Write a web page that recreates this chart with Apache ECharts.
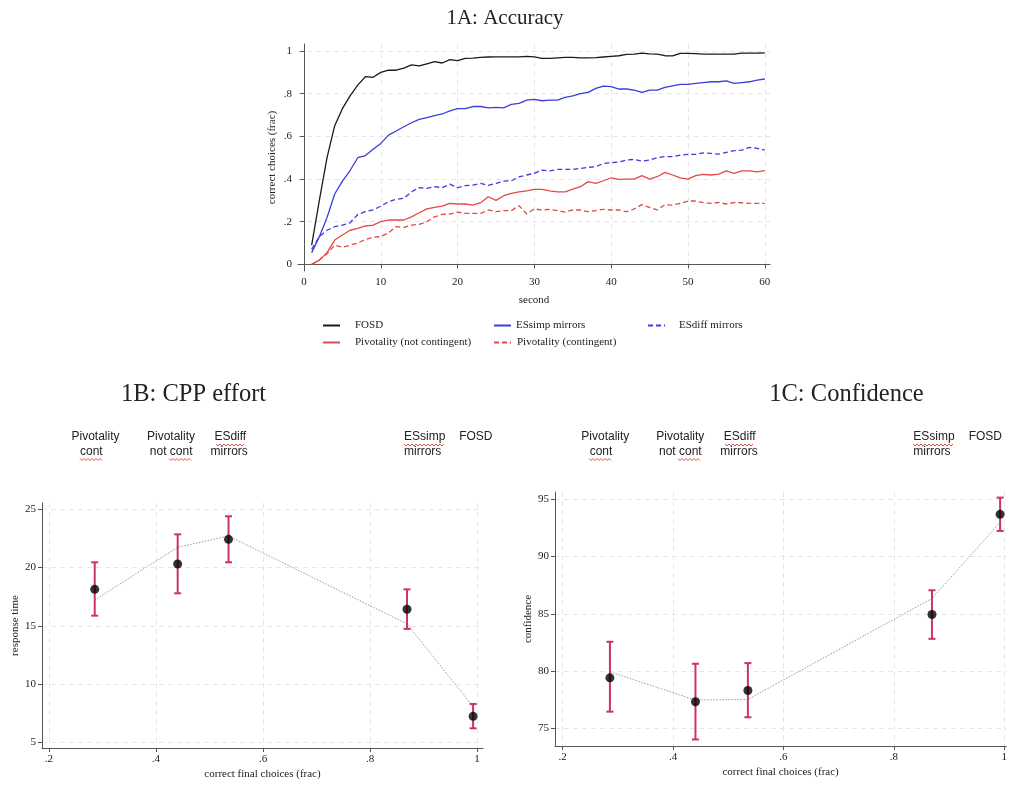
<!DOCTYPE html>
<html>
<head>
<meta charset="utf-8">
<script src="https://cdn.jsdelivr.net/npm/echarts@6/dist/echarts.min.js"></script>
<style>
  html, body { margin: 0; padding: 0; background: #fff; }
  #chart { width: 1010px; height: 785px; }
</style>
</head>
<body>
<div id="chart"></div>
<script>
// ---- 1A: share of correct choices by second ----
const seconds = [1,2,3,4,5,6,7,8,9,10,11,12,13,14,15,16,17,18,19,20,
  21,22,23,24,25,26,27,28,29,30,31,32,33,34,35,36,37,38,39,40,
  41,42,43,44,45,46,47,48,49,50,51,52,53,54,55,56,57,58,59,60];

const fosd = [0.09,0.30,0.50,0.65,0.73,0.79,0.84,0.88,0.877,0.90,
  0.91,0.91,0.92,0.935,0.93,0.94,0.95,0.944,0.96,0.955,
  0.966,0.967,0.97,0.972,0.973,0.973,0.973,0.973,0.975,0.973,
  0.966,0.966,0.968,0.97,0.97,0.968,0.968,0.969,0.972,0.975,
  0.978,0.984,0.986,0.99,0.987,0.986,0.978,0.977,0.989,0.989,
  0.988,0.986,0.986,0.986,0.986,0.986,0.99,0.99,0.99,0.991];

const esSimp = [0.055,0.13,0.22,0.33,0.39,0.44,0.50,0.51,0.54,0.567,
  0.606,0.625,0.645,0.664,0.68,0.6875,0.697,0.705,0.72,0.73,
  0.73,0.74,0.74,0.734,0.736,0.734,0.75,0.755,0.77,0.773,
  0.767,0.77,0.77,0.783,0.79,0.80,0.806,0.825,0.836,0.833,
  0.822,0.822,0.817,0.806,0.817,0.817,0.83,0.837,0.844,0.844,
  0.848,0.852,0.856,0.856,0.86,0.848,0.852,0.856,0.864,0.869];

const esDiff = [0.07,0.13,0.16,0.177,0.184,0.195,0.234,0.247,0.255,0.273,
  0.294,0.305,0.31,0.34,0.36,0.356,0.364,0.36,0.376,0.36,
  0.369,0.372,0.38,0.37,0.38,0.39,0.392,0.41,0.419,0.427,
  0.442,0.438,0.445,0.445,0.445,0.45,0.455,0.458,0.473,0.477,
  0.48,0.489,0.492,0.484,0.489,0.50,0.505,0.505,0.512,0.516,
  0.516,0.523,0.52,0.517,0.525,0.533,0.536,0.548,0.544,0.536];

const pivNotCont = [0.0,0.02,0.055,0.114,0.138,0.16,0.169,0.18,0.184,0.2,
  0.208,0.208,0.208,0.223,0.242,0.26,0.267,0.273,0.286,0.283,
  0.283,0.278,0.289,0.317,0.30,0.322,0.333,0.34,0.345,0.352,
  0.352,0.345,0.34,0.34,0.353,0.364,0.388,0.38,0.392,0.406,
  0.398,0.40,0.40,0.416,0.40,0.411,0.431,0.419,0.406,0.40,
  0.416,0.422,0.419,0.423,0.438,0.427,0.438,0.438,0.434,0.439];

const pivCont = [0.0,0.02,0.05,0.09,0.08,0.09,0.10,0.117,0.127,0.13,
  0.148,0.177,0.173,0.184,0.188,0.2,0.223,0.234,0.236,0.245,
  0.239,0.239,0.239,0.255,0.247,0.252,0.252,0.275,0.236,0.26,
  0.255,0.258,0.252,0.245,0.255,0.255,0.247,0.252,0.258,0.255,
  0.255,0.247,0.26,0.28,0.267,0.255,0.28,0.278,0.286,0.297,
  0.297,0.29,0.286,0.29,0.283,0.29,0.289,0.286,0.286,0.286];

const accTicksX = [0,10,20,30,40,50,60];
const accTicksY = [0,0.2,0.4,0.6,0.8,1];

// ---- 1B / 1C: per-game effort and confidence vs final accuracy ----
const games = ['Pivotality cont', 'Pivotality not cont', 'ESdiff mirrors', 'ESsimp mirrors', 'FOSD'];
const finalAcc = [0.2855, 0.4405, 0.5355, 0.869, 0.9925];

const rtMean = [18.13, 20.30, 22.42, 16.42, 7.23];
const rtLow  = [15.87, 17.79, 20.45, 14.73, 6.20];
const rtHigh = [20.45, 22.85, 24.40, 18.13, 8.29];
const rtFit  = [17.21, 21.74, 22.71, 15.16, 8.06];

const confMean = [79.41, 77.32, 78.31, 84.94, 93.69];
const confLow  = [76.46, 74.03, 75.97, 82.82, 92.24];
const confHigh = [82.56, 80.64, 80.70, 87.06, 95.15];
const confFit  = [79.93, 77.47, 77.53, 86.34, 92.99];

const fracTicks = [0.2, 0.4, 0.6, 0.8, 1];
const rtTicks = [5, 10, 15, 20, 25];
const confTicks = [75, 80, 85, 90, 95];

// ---- styling ----
const SERIF = '"Liberation Serif", "Times New Roman", serif';
const SANS = '"Liberation Sans", Arial, sans-serif';
const BLACK = '#1a1a1a';
const BLUE = '#3c3cdc';
const RED = '#e44848';
const CI_COLOR = '#cc3366';
const GRID_LINE = { show: true, lineStyle: { color: '#e6e6e6', type: [5, 4], width: 1 } };

function frac(v) {
  if (v === 0) return '0';
  if (v === 1) return '1';
  return String(v).replace(/^0/, '');
}

function valueAxis(gridIndex, min, max, ticks, formatter, extra) {
  return Object.assign({
    type: 'value', gridIndex, min, max,
    axisLine: { show: true, lineStyle: { color: '#555', width: 1 } },
    axisTick: { show: true, customValues: ticks, length: 4, lineStyle: { color: '#555' } },
    axisLabel: { customValues: ticks, formatter, color: '#222', fontFamily: SERIF, fontSize: 11, margin: 6 },
    splitLine: GRID_LINE,
    nameLocation: 'middle',
    nameTextStyle: { color: '#222', fontFamily: SERIF, fontSize: 11 }
  }, extra || {});
}

function pairs(xs, ys) { return xs.map((x, i) => [x, ys[i]]); }

function ciSeries(xAxisIndex, yAxisIndex, lows, highs) {
  return {
    type: 'custom', xAxisIndex, yAxisIndex, z: 3,
    data: finalAcc.map((x, i) => [x, lows[i], highs[i]]),
    encode: { x: 0, y: [1, 2] },
    renderItem(params, api) {
      const x = api.value(0);
      const lo = api.coord([x, api.value(1)]);
      const hi = api.coord([x, api.value(2)]);
      const w = 3.5;
      const style = { stroke: CI_COLOR, lineWidth: 2 };
      return {
        type: 'group',
        children: [
          { type: 'line', shape: { x1: lo[0], y1: lo[1], x2: hi[0], y2: hi[1] }, style },
          { type: 'line', shape: { x1: lo[0] - w, y1: lo[1], x2: lo[0] + w, y2: lo[1] }, style },
          { type: 'line', shape: { x1: hi[0] - w, y1: hi[1], x2: hi[0] + w, y2: hi[1] }, style }
        ]
      };
    }
  };
}

function fitSeries(xAxisIndex, yAxisIndex, fit) {
  return {
    type: 'line', xAxisIndex, yAxisIndex, z: 2, symbol: 'none', silent: true,
    data: pairs(finalAcc, fit),
    lineStyle: { color: '#9a9a9a', width: 1, type: [1.5, 1.5] }
  };
}

function meanSeries(xAxisIndex, yAxisIndex, means) {
  return {
    type: 'scatter', xAxisIndex, yAxisIndex, z: 4,
    data: pairs(finalAcc, means),
    symbol: 'circle', symbolSize: 9,
    itemStyle: { color: '#000' }
  };
}

function accLine(name, values, color, dashed) {
  return {
    name, type: 'line', xAxisIndex: 0, yAxisIndex: 0, symbol: 'none',
    data: pairs(seconds, values),
    lineStyle: { color, width: 1.3, type: dashed ? [5, 3] : 'solid' },
    itemStyle: { color }
  };
}

// one legend entry: left is the line sample's start, gap the space before the text
function legendAt(name, left, top, gap) {
  return {
    data: [name], left: left - 6, top, itemWidth: 17, itemHeight: 10,
    selectedMode: false,
    itemStyle: { opacity: 0 },
    textStyle: { fontFamily: SERIF, fontSize: 11, color: '#222', padding: [0, 0, 0, gap - 6] }
  };
}

// spell-check style wavy underline used under some label words
function squiggle(x1, x2, y) {
  const pts = [];
  let up = true;
  for (let x = x1; x <= x2; x += 2) { pts.push([x, y + (up ? -1 : 1)]); up = !up; }
  return { type: 'polyline', shape: { points: pts }, style: { stroke: '#e0504a', lineWidth: 1, fill: null }, z: 10 };
}

function txt(text, x, y, font, align) {
  return {
    type: 'text', x, y, z: 10,
    style: { text, font, fill: '#222', textAlign: align || 'center', textVerticalAlign: 'middle' }
  };
}

const LABEL_FONT = '12px ' + SANS;
const TITLE_FONT = '21px ' + SERIF;
const SUBTITLE_FONT = '24.5px ' + SERIF;

const graphics = [
  txt('1A: Accuracy', 505, 18, TITLE_FONT),
  txt('1B: CPP effort', 193.5, 395, SUBTITLE_FONT),
  txt('1C: Confidence', 846.5, 395, SUBTITLE_FONT),

  // labels above panel 1B
  txt('Pivotality', 95.5, 437, LABEL_FONT), txt('cont', 91.3, 452, LABEL_FONT),
  txt('Pivotality', 171, 437, LABEL_FONT), txt('not cont', 171.2, 452, LABEL_FONT),
  txt('ESdiff', 230.3, 437, LABEL_FONT), txt('mirrors', 229.2, 452, LABEL_FONT),
  txt('ESsimp', 404, 437, LABEL_FONT, 'left'), txt('mirrors', 404, 452, LABEL_FONT, 'left'),
  txt('FOSD', 475.8, 437, LABEL_FONT),
  squiggle(80, 103, 459.5), squiggle(169, 192, 459.5), squiggle(216, 245, 445), squiggle(404, 445, 445),

  // labels above panel 1C
  txt('Pivotality', 605.3, 437, LABEL_FONT), txt('cont', 601, 452, LABEL_FONT),
  txt('Pivotality', 680.3, 437, LABEL_FONT), txt('not cont', 680.3, 452, LABEL_FONT),
  txt('ESdiff', 739.7, 437, LABEL_FONT), txt('mirrors', 739, 452, LABEL_FONT),
  txt('ESsimp', 913.3, 437, LABEL_FONT, 'left'), txt('mirrors', 913.3, 452, LABEL_FONT, 'left'),
  txt('FOSD', 985.3, 437, LABEL_FONT),
  squiggle(589, 612, 459.5), squiggle(678, 701, 459.5), squiggle(725, 754, 445), squiggle(913, 954, 445)
];

const chart = echarts.init(document.getElementById('chart'), null, { renderer: 'canvas' });

chart.setOption({
  animation: false,
  backgroundColor: '#fff',
  grid: [
    { left: 298, top: 44, width: 472, height: 227 },
    { left: 42, top: 503, width: 441, height: 245 },
    { left: 555, top: 492, width: 455, height: 254 }
  ],
  xAxis: [
    valueAxis(0, -0.78, 60.68, accTicksX, v => String(v), { name: 'second', nameGap: 24 }),
    valueAxis(1, 0.187, 1.011, fracTicks, frac, { name: 'correct final choices (frac)', nameGap: 21 }),
    valueAxis(2, 0.186, 1.0036, fracTicks, frac, { name: 'correct final choices (frac)', nameGap: 21 })
  ],
  yAxis: [
    valueAxis(0, -0.031, 1.033, accTicksY, frac, { name: 'correct choices (frac)', nameGap: 20 }),
    valueAxis(1, 4.51, 25.54, rtTicks, v => String(v), { name: 'response time', nameGap: 20 }),
    valueAxis(2, 73.46, 95.64, confTicks, v => String(v), { name: 'confidence', nameGap: 20 })
  ],
  legend: [
    legendAt('FOSD', 323, 315, 16),
    legendAt('ESsimp mirrors', 494, 315, 6),
    legendAt('ESdiff mirrors', 648, 315, 15),
    legendAt('Pivotality (not contingent)', 323, 332, 16),
    legendAt('Pivotality (contingent)', 494, 332, 7)
  ],
  series: [
    accLine('FOSD', fosd, BLACK, false),
    accLine('ESsimp mirrors', esSimp, BLUE, false),
    accLine('ESdiff mirrors', esDiff, BLUE, true),
    accLine('Pivotality (not contingent)', pivNotCont, RED, false),
    accLine('Pivotality (contingent)', pivCont, RED, true),

    fitSeries(1, 1, rtFit),
    ciSeries(1, 1, rtLow, rtHigh),
    meanSeries(1, 1, rtMean),

    fitSeries(2, 2, confFit),
    ciSeries(2, 2, confLow, confHigh),
    meanSeries(2, 2, confMean)
  ],
  graphic: graphics
});
</script>
</body>
</html>
